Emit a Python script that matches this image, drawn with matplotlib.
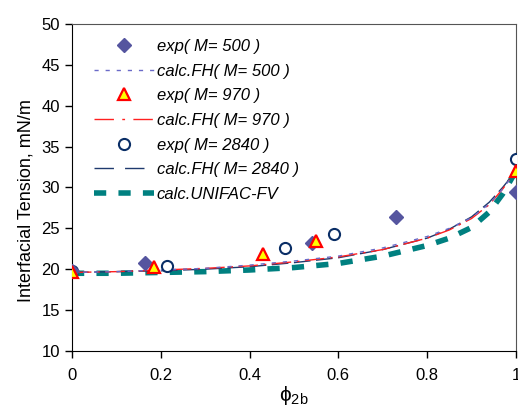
import matplotlib
matplotlib.use("Agg")
import matplotlib.pyplot as plt
from matplotlib.lines import Line2D

plt.rcParams['font.family'] = ['Liberation Sans', 'DejaVu Sans']

# experimental data
x_exp500 = [0.0, 0.165, 0.54, 0.73, 1.0]
y_exp500 = [19.8, 20.8, 23.2, 26.4, 29.5]
x_exp970 = [0.0, 0.185, 0.43, 0.55, 1.0]
y_exp970 = [19.6, 20.3, 21.9, 23.5, 32.0]
x_exp2840 = [0.0, 0.215, 0.48, 0.59, 1.0]
y_exp2840 = [19.8, 20.4, 22.6, 24.3, 33.5]

# calculated curves
x_calc = [0.0, 0.1, 0.2, 0.3, 0.4, 0.5, 0.6, 0.7, 0.8, 0.85, 0.9, 0.94, 0.97, 1.0]
y_fh500 = [19.6, 19.7, 19.9, 20.1, 20.5, 21.0, 21.6, 22.6, 24.0, 25.0, 26.3, 28.0, 29.8, 32.0]
y_fh970 = [19.6, 19.7, 19.9, 20.1, 20.4, 20.9, 21.5, 22.4, 23.8, 24.8, 26.2, 27.9, 29.8, 32.0]
y_fh2840 = [19.6, 19.7, 19.8, 20.0, 20.3, 20.8, 21.4, 22.4, 23.8, 24.9, 26.4, 28.2, 30.0, 32.0]
y_unifac = [19.5, 19.5, 19.6, 19.7, 19.9, 20.2, 20.7, 21.6, 22.9, 23.8, 25.1, 27.0, 29.2, 32.0]

fig = plt.figure(figsize=(5.18, 4.08), dpi=100)
ax = fig.add_axes([0.139, 0.140, 0.857, 0.801])

ax.plot(x_calc, y_unifac, color='#008080', lw=4, ls=(0, (2.2, 2.2)), zorder=2)
ax.plot(x_calc, y_fh2840, color='#1F3A6E', lw=1.0, ls=(0, (12, 4)), zorder=3)
ax.plot(x_calc, y_fh970, color='#FF2020', lw=1.0, ls=(0, (14, 4, 2, 4)), zorder=3)
ax.plot(x_calc, y_fh500, color='#6A6AC8', lw=1.0, ls=(0, (3, 5)), zorder=3)

h1, = ax.plot(x_exp500, y_exp500, ls='none', marker='D', ms=7, mfc='#55559F', mec='#55559F', zorder=5)
h3, = ax.plot(x_exp970, y_exp970, ls='none', marker='^', ms=9, mfc='#FFFF00', mec='#FF0000', mew=1.6, zorder=6)
h5, = ax.plot(x_exp2840, y_exp2840, ls='none', marker='o', ms=8, mfc='white', mec='#0A2E66', mew=1.5, zorder=4)

h2 = Line2D([], [], color='#6A6AC8', lw=1.0, ls=(0, (3, 5)))
h4 = Line2D([], [], color='#FF2020', lw=1.0, ls=(0, (14, 6, 2, 6)))
h6 = Line2D([], [], color='#1F3A6E', lw=1.0, ls=(0, (14, 8)))
h7 = Line2D([], [], color='#008080', lw=4, ls=(0, (2.2, 2.2)))

leg = ax.legend([h1, h2, h3, h4, h5, h6, h7],
                ['exp( M= 500 )', 'calc.FH( M= 500 )', 'exp( M= 970 )', 'calc.FH( M= 970 )',
                 'exp( M= 2840 )', 'calc.FH( M= 2840 )', 'calc.UNIFAC-FV'],
                loc='upper left', bbox_to_anchor=(0.035, 0.975), frameon=False,
                prop={'style': 'italic', 'size': 12}, handlelength=3.6, handletextpad=0.15,
                labelspacing=0.58, borderaxespad=0)

ax.set_xlim(0, 1)
ax.set_ylim(10, 50)
ax.set_xticks([0, 0.2, 0.4, 0.6, 0.8, 1])
ax.set_xticklabels(['0', '0.2', '0.4', '0.6', '0.8', '1'])
ax.set_yticks(range(10, 51, 5))
ax.tick_params(direction='out', length=5, labelsize=12, width=1)
ax.tick_params(axis='x', pad=7)
for s in ['top', 'right']:
    ax.spines[s].set_color('#555555')
for s in ['left', 'bottom']:
    ax.spines[s].set_color('black')
ax.set_ylabel('Interfacial Tension, mN/m', fontsize=13)
ax.yaxis.set_label_coords(-0.085, 0.46)
ax.set_xlabel(r'$\mathregular{\phi_{2b}}$', fontsize=15, labelpad=1)

fig.savefig('out.png', dpi=100)
